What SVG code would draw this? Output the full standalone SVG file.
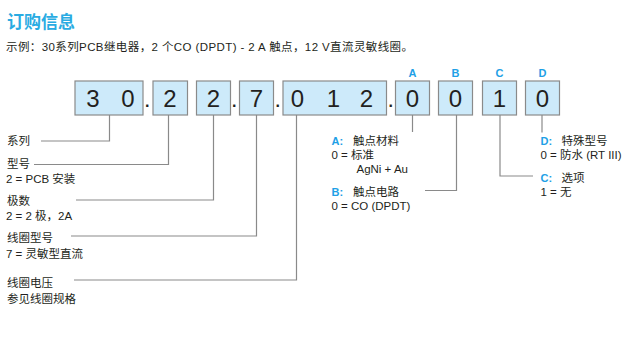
<svg xmlns="http://www.w3.org/2000/svg" width="630" height="344" viewBox="0 0 630 344">
<style>
text{font-family:"Liberation Sans","Noto Sans CJK SC",sans-serif;fill:#231f20}
.t{font-size:17px;font-weight:bold;fill:#29abe2}
.s{font-size:11.5px}
.d{font-size:24px;text-anchor:middle}
.dot{font-size:16px;font-weight:bold}
.k{font-size:11px;font-weight:bold;fill:#1ea0e6}
.b{fill:#cdeafa;stroke:#8a8a8a;stroke-width:1.2}
.c{fill:none;stroke:#8a8a8a;stroke-width:1.2}
</style>
<rect width="630" height="344" fill="#fff"/>
<g id="title">
<text class="t" x="7" y="28">订购信息</text>
<text class="s" x="6" y="51" textLength="407" lengthAdjust="spacing">示例：30系列PCB继电器，2 个CO (DPDT) - 2 A 触点，12 V直流灵敏线圈。</text>
</g>
<g id="box-series">
<rect class="b" x="75" y="81" width="68" height="34"/>
<text class="d" x="93" y="107">3</text><text class="d" x="128" y="107">0</text>
</g>
<text class="dot" x="145" y="107">.</text>
<g id="box-type">
<rect class="b" x="153" y="81" width="34.5" height="34"/>
<text class="d" x="170" y="107">2</text>
</g>
<g id="box-poles">
<rect class="b" x="196.5" y="81" width="34" height="34"/>
<text class="d" x="213.5" y="107">2</text>
</g>
<text class="dot" x="232" y="107">.</text>
<g id="box-coiltype">
<rect class="b" x="239.5" y="81" width="34" height="34"/>
<text class="d" x="256.5" y="107">7</text>
</g>
<text class="dot" x="275.5" y="107">.</text>
<g id="box-voltage">
<rect class="b" x="283" y="81" width="103.5" height="34"/>
<text class="d" x="297.5" y="107">0</text><text class="d" x="333.5" y="107">1</text><text class="d" x="366.5" y="107">2</text>
</g>
<text class="dot" x="388.5" y="107">.</text>
<g id="box-A">
<text class="k" x="412.5" y="77" text-anchor="middle">A</text>
<rect class="b" x="395.5" y="81" width="34" height="34"/>
<text class="d" x="412.5" y="107">0</text>
</g>
<g id="box-B">
<text class="k" x="455.5" y="77" text-anchor="middle">B</text>
<rect class="b" x="438.5" y="81" width="34" height="34"/>
<text class="d" x="455.5" y="107">0</text>
</g>
<g id="box-C">
<text class="k" x="499.5" y="77" text-anchor="middle">C</text>
<rect class="b" x="482.5" y="81" width="34" height="34"/>
<text class="d" x="499.5" y="107">1</text>
</g>
<g id="box-D">
<text class="k" x="542.5" y="77" text-anchor="middle">D</text>
<rect class="b" x="525.5" y="81" width="34" height="34"/>
<text class="d" x="542.5" y="107">0</text>
</g>
<g id="connectors">
<polyline class="c" points="109.5,115 109.5,141 41,141"/>
<polyline class="c" points="168.5,115 168.5,164.5 34,164.5"/>
<polyline class="c" points="213.5,115 213.5,200 76,200"/>
<polyline class="c" points="256.5,115 256.5,236 71,236"/>
<polyline class="c" points="296.5,115 296.5,280 74,280"/>
<polyline class="c" points="412.5,115 412.5,132"/>
<polyline class="c" points="456.5,115 456.5,190.5 425,190.5"/>
<polyline class="c" points="500,115 500,176 533,176"/>
<polyline class="c" points="542,115 542,132.5"/>
</g>
<g id="label-series"><text class="s" x="7" y="145">系列</text></g>
<g id="label-type"><text class="s" x="7" y="168">型号</text><text class="s" x="6" y="183">2 = PCB 安装</text></g>
<g id="label-poles"><text class="s" x="7" y="205">极数</text><text class="s" x="6" y="220">2 = 2 极，2A</text></g>
<g id="label-coiltype"><text class="s" x="7" y="242">线圈型号</text><text class="s" x="6" y="258">7 = 灵敏型直流</text></g>
<g id="label-voltage"><text class="s" x="7" y="287">线圈电压</text><text class="s" x="7" y="303">参见线圈规格</text></g>
<g id="label-A"><text class="k" x="331.5" y="145">A:</text><text class="s" x="353" y="145">触点材料</text><text class="s" x="331.5" y="158.5">0 = 标准</text><text class="s" x="356.5" y="173">AgNi + Au</text></g>
<g id="label-B"><text class="k" x="331.5" y="196">B:</text><text class="s" x="353" y="196">触点电路</text><text class="s" x="331.5" y="210">0 = CO (DPDT)</text></g>
<g id="label-D"><text class="k" x="540.5" y="145">D:</text><text class="s" x="561.5" y="145">特殊型号</text><text class="s" x="540.5" y="158.5">0 = 防水 (RT III)</text></g>
<g id="label-C"><text class="k" x="540.5" y="181.5">C:</text><text class="s" x="561.5" y="181.5">选项</text><text class="s" x="540.5" y="196">1 = 无</text></g>
</svg>
